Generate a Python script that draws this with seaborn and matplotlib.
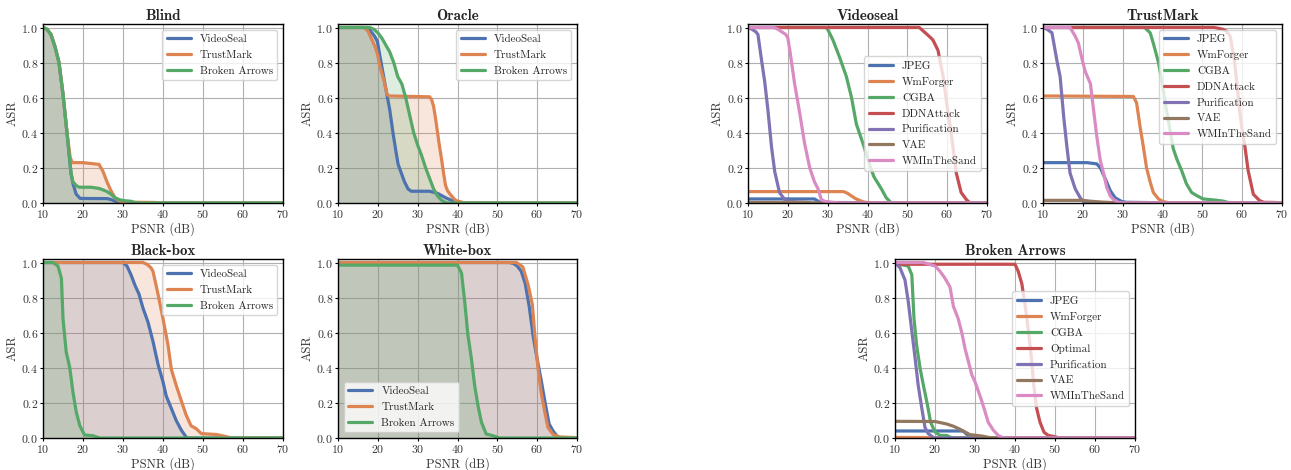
import matplotlib
matplotlib.use("Agg")
import matplotlib.pyplot as plt
import seaborn as sns

# (PSNR dB, ASR) breakpoints
# --- attack strength panels ---
blind_videoseal = [(10, 1.0), (11, 0.99), (12, 0.96), (13, 0.89), (14, 0.8), (15, 0.62), (16, 0.4), (17, 0.17),
                   (17.5, 0.11), (18.3, 0.05), (19.3, 0.026), (26, 0.025), (27, 0.02), (28, 0.01), (29, 0.002), (30, 0.0), (70, 0.0)]
blind_trustmark = [(10, 1.0), (11, 0.99), (12, 0.96), (13, 0.89), (14, 0.8), (15, 0.62), (16, 0.4), (16.8, 0.26),
                   (17.3, 0.23), (20, 0.23), (22, 0.225), (24, 0.22), (25, 0.18), (26, 0.12), (27, 0.07), (28, 0.03),
                   (29, 0.012), (30, 0.005), (38, 0.003), (39, 0.0), (70, 0.0)]
blind_brokenarrows = [(10, 1.0), (11, 0.99), (12, 0.96), (13, 0.89), (14, 0.8), (15, 0.62), (16, 0.4), (17, 0.17),
                      (17.5, 0.12), (18.3, 0.1), (19, 0.09), (22, 0.09), (24, 0.083), (25, 0.075), (26, 0.065), (27, 0.05),
                      (28, 0.03), (29, 0.02), (30, 0.014), (32, 0.01), (33, 0.002), (34, 0.0), (70, 0.0)]

oracle_videoseal = [(10, 1.0), (17.5, 1.0), (18, 0.985), (19.2, 0.95), (19.9, 0.92), (20.5, 0.84), (21.3, 0.74), (22.1, 0.64),
                    (23, 0.53), (23.8, 0.4), (24.5, 0.3), (25.1, 0.22), (25.9, 0.17), (26.7, 0.12), (27.6, 0.08), (28.4, 0.067),
                    (33, 0.067), (35, 0.055), (37, 0.03), (39, 0.01), (41, 0.003), (42, 0.0), (70, 0.0)]
oracle_trustmark = [(10, 1.0), (16.5, 1.0), (17.5, 0.98), (18.5, 0.93), (19.5, 0.88), (20, 0.84), (20.5, 0.78), (21.5, 0.7),
                    (22.3, 0.62), (22.8, 0.61), (33, 0.605), (33.5, 0.59), (34, 0.55), (34.5, 0.48), (35, 0.4), (35.5, 0.32),
                    (36, 0.25), (36.5, 0.17), (37, 0.1), (37.5, 0.07), (38.5, 0.04), (39.5, 0.015), (41, 0.005), (42, 0.0), (70, 0.0)]
oracle_brokenarrows = [(10, 1.0), (18, 1.0), (19, 0.99), (20, 0.97), (21, 0.94), (22, 0.9), (23, 0.86), (24, 0.8), (25, 0.72),
                       (26, 0.68), (27, 0.6), (28, 0.5), (29, 0.4), (30, 0.33), (31, 0.27), (32, 0.2), (33, 0.14), (34, 0.08),
                       (35, 0.04), (36, 0.015), (37, 0.003), (37.5, 0.0), (70, 0.0)]

blackbox_videoseal = [(10, 1.0), (30, 1.0), (31, 0.98), (32, 0.93), (33, 0.87), (34, 0.82), (35, 0.74), (36.25, 0.66),
                      (37.5, 0.55), (38.75, 0.42), (40, 0.32), (40.8, 0.24), (41.7, 0.19), (43.3, 0.1), (44.6, 0.044),
                      (45.8, 0.005), (46.2, 0.0), (70, 0.0)]
blackbox_trustmark = [(10, 1.0), (35, 1.0), (36, 0.99), (37, 0.97), (37.5, 0.95), (38.75, 0.82), (40, 0.68), (41.25, 0.53),
                      (42.1, 0.39), (43.3, 0.3), (44.6, 0.21), (45.8, 0.13), (47, 0.07), (48.3, 0.053), (49.6, 0.025),
                      (53.3, 0.02), (55.8, 0.008), (57.1, 0.0), (70, 0.0)]
blackbox_brokenarrows = [(10, 1.0), (12.5, 1.0), (13.75, 0.98), (14.6, 0.91), (15, 0.68), (15.8, 0.49), (16.7, 0.4),
                         (17.5, 0.26), (18.3, 0.15), (19.2, 0.07), (20.4, 0.017), (22.5, 0.013), (24.2, 0.0), (70, 0.0)]

whitebox_videoseal = [(10, 1.0), (53, 1.0), (54, 0.995), (55, 0.98), (56, 0.95), (57, 0.88), (58, 0.75), (59, 0.58),
                      (60, 0.45), (61, 0.33), (62, 0.2), (63, 0.08), (64, 0.04), (65, 0.01), (66, 0.0), (70, 0.0)]
whitebox_trustmark = [(10, 1.0), (54.8, 1.0), (56.4, 0.975), (57.7, 0.875), (58.8, 0.76), (59.4, 0.59), (60.2, 0.4),
                      (61, 0.26), (61.9, 0.15), (62.7, 0.06), (64, 0.02), (65.6, 0.006), (69, 0.003), (70, 0.0)]
whitebox_brokenarrows = [(10, 0.985), (40, 0.985), (41, 0.94), (41.8, 0.78), (42.6, 0.59), (43.5, 0.45), (44.3, 0.3),
                         (45.1, 0.19), (46, 0.09), (47.2, 0.023), (48.9, 0.013), (50.6, 0.0), (70, 0.0)]

# --- per-watermark panels ---
vs_jpeg = [(10, 0.023), (26.7, 0.023), (27.5, 0.012), (28, 0.005), (30, 0.003), (40, 0.002), (41, 0.0), (70, 0.0)]
vs_wmforger = [(10, 0.065), (34, 0.065), (35, 0.055), (36, 0.04), (37, 0.025), (38, 0.015), (39, 0.006), (40, 0.003),
               (42, 0.001), (43, 0.0), (70, 0.0)]
vs_cgba = [(10, 1.0), (29.5, 1.0), (30, 0.99), (31.3, 0.93), (33, 0.83), (34.7, 0.72), (36, 0.6), (37.2, 0.45), (39, 0.33),
           (40.5, 0.22), (41.6, 0.15), (43.5, 0.08), (44.7, 0.03), (46, 0.0), (70, 0.0)]
vs_ddn = [(10, 1.0), (53, 1.0), (54, 0.98), (55, 0.96), (56.4, 0.93), (57.7, 0.87), (59, 0.72), (60, 0.55), (61, 0.4),
          (62.3, 0.17), (63.5, 0.06), (64.8, 0.02), (65.6, 0.003), (66, 0.0), (70, 0.0)]
vs_purification = [(10, 1.0), (11, 0.99), (12, 0.975), (12.5, 0.96), (13.3, 0.83), (14.2, 0.69), (15, 0.53), (15.9, 0.32),
                   (16.7, 0.18), (17.9, 0.06), (19.2, 0.02), (20, 0.012), (22, 0.006), (25, 0.002), (26, 0.0), (70, 0.0)]
vs_vae = [(10, 0.003), (25, 0.003), (26, 0.0), (70, 0.0)]
vs_wmsand = [(10, 1.0), (16.5, 1.0), (17.5, 0.99), (18.5, 0.975), (19.5, 0.96), (20, 0.94), (20.5, 0.87), (21.7, 0.68),
             (23, 0.51), (24.2, 0.34), (25.5, 0.2), (26.7, 0.12), (27.6, 0.08), (28.4, 0.02), (29.2, 0.01), (31, 0.004),
             (33, 0.0), (70, 0.0)]

tm_jpeg = [(10, 0.23), (21, 0.23), (23.5, 0.223), (24.4, 0.2), (25.6, 0.14), (26.9, 0.07), (28.1, 0.03), (29.8, 0.008),
           (31, 0.004), (38, 0.002), (40, 0.0), (70, 0.0)]
tm_wmforger = [(10, 0.61), (32.7, 0.607), (33.5, 0.57), (34.4, 0.43), (35.2, 0.32), (36, 0.2), (36.9, 0.12), (37.7, 0.06),
               (39, 0.023), (40.2, 0.008), (41.9, 0.0), (70, 0.0)]
tm_cgba = [(10, 1.0), (35.5, 1.0), (36.9, 0.97), (37.7, 0.91), (39, 0.8), (40, 0.67), (41, 0.53), (42, 0.4), (42.7, 0.31),
           (43.6, 0.25), (44.8, 0.185), (46, 0.11), (47.3, 0.06), (48.6, 0.042), (50.2, 0.023), (53.1, 0.017),
           (55.2, 0.011), (57, 0.0), (70, 0.0)]
tm_ddn = [(10, 1.0), (53, 1.0), (55.2, 0.99), (56, 0.98), (57, 0.95), (58, 0.82), (58.6, 0.7), (59.4, 0.52), (60.1, 0.4),
          (60.7, 0.32), (61.5, 0.185), (62.8, 0.05), (64.4, 0.013), (65.5, 0.004), (68.6, 0.003), (69, 0.0), (70, 0.0)]
tm_purification = [(10, 1.0), (11, 0.99), (12.25, 0.97), (13.5, 0.81), (14.3, 0.72), (15.2, 0.49), (16, 0.32), (16.8, 0.17),
                   (18.1, 0.08), (19.35, 0.03), (20, 0.01), (21, 0.0), (70, 0.0)]
tm_vae = [(10, 0.015), (20, 0.015), (22, 0.01), (25, 0.005), (28, 0.002), (30, 0.0), (70, 0.0)]
tm_wmsand = [(10, 1.0), (16.8, 1.0), (18.1, 0.95), (18.9, 0.91), (19.8, 0.82), (20.6, 0.75), (21.9, 0.68), (22.7, 0.53),
             (23.5, 0.38), (24.4, 0.24), (25.2, 0.17), (26, 0.09), (26.9, 0.04), (27.7, 0.02), (29, 0.003), (30, 0.0), (70, 0.0)]

ba_jpeg = [(10, 0.04), (27, 0.04), (27.5, 0.03), (28, 0.02), (29, 0.005), (30, 0.0), (70, 0.0)]
ba_wmforger = [(10, 0.003), (30, 0.002), (31, 0.0), (70, 0.0)]
ba_cgba = [(10, 1.0), (11, 0.99), (13.3, 0.98), (14.2, 0.93), (14.75, 0.68), (15.4, 0.53), (16.25, 0.4), (17.1, 0.3),
           (18.1, 0.19), (18.9, 0.09), (20, 0.034), (21.25, 0.015), (23, 0.014), (23.75, 0.005), (25, 0.0), (70, 0.0)]
ba_optimal = [(10, 0.99), (40, 0.99), (40.8, 0.95), (41.7, 0.88), (42.5, 0.76), (43.3, 0.62), (44, 0.48), (44.7, 0.3),
              (45.4, 0.17), (46.25, 0.09), (47.25, 0.033), (48.3, 0.015), (50.4, 0.005), (51, 0.0), (70, 0.0)]
ba_purification = [(10, 1.0), (11.25, 0.97), (12.5, 0.9), (13.3, 0.78), (14.2, 0.61), (15, 0.46), (15.8, 0.3), (16.7, 0.17),
                   (17.5, 0.06), (18.3, 0.025), (19.6, 0.003), (20, 0.0), (70, 0.0)]
ba_vae = [(10, 0.095), (20, 0.094), (22.9, 0.08), (24.6, 0.067), (26.25, 0.05), (27.5, 0.034), (28.75, 0.019),
          (30.4, 0.015), (32, 0.01), (33.75, 0.002), (34.5, 0.0), (70, 0.0)]
ba_wmsand = [(10, 1.0), (17.1, 1.0), (20, 0.98), (21.25, 0.95), (22.5, 0.91), (23.75, 0.86), (24.6, 0.75), (25.8, 0.68),
             (26.7, 0.6), (27.5, 0.51), (28.3, 0.44), (29.2, 0.36), (30, 0.32), (31.25, 0.24), (32.25, 0.17), (33.3, 0.09),
             (34.6, 0.044), (35.8, 0.015), (37.1, 0.0), (70, 0.0)]

wm_labels = ["VideoSeal", "TrustMark", "Broken Arrows"]
attack_labels = ["JPEG", "WmForger", "CGBA", "DDNAttack", "Purification", "VAE", "WMInTheSand"]
ba_attack_labels = ["JPEG", "WmForger", "CGBA", "Optimal", "Purification", "VAE", "WMInTheSand"]

sns.set_theme(style="whitegrid", palette="deep")
plt.rcParams.update({
    "font.family": "cmr10",
    "mathtext.fontset": "cm",
    "axes.formatter.use_mathtext": True,
    "axes.edgecolor": "black",
    "axes.linewidth": 1.0,
    "grid.color": "#b0b0b0",
    "grid.linewidth": 0.8,
    "xtick.labelsize": 8.5,
    "ytick.labelsize": 8.5,
    "xtick.color": "#333333",
    "ytick.color": "#333333",
    "axes.labelsize": 9,
    "axes.labelcolor": "#333333",
    "legend.fontsize": 8,
    "xtick.bottom": True,
    "ytick.left": True,
})
pal = sns.color_palette("deep")

W, H = 1291, 470
fig = plt.figure(figsize=(W / 100, H / 100), dpi=100)


def make_ax(left, right, top, bottom):
    return fig.add_axes([left / W, 1 - bottom / H, (right - left) / W, (bottom - top) / H])


def panel(ax, title, curves, labels, fill, legend_loc):
    for i, (pts, lab) in enumerate(zip(curves, labels)):
        xs = [p[0] for p in pts]
        ys = [p[1] for p in pts]
        if fill:
            ax.fill_between(xs, ys, 0, color=pal[i], alpha=0.2, lw=0, zorder=1)
        sns.lineplot(x=xs, y=ys, ax=ax, color=pal[i], lw=2.3, label=lab,
                     estimator=None, sort=False, zorder=2)
    ax.set_xlim(10, 70)
    ax.set_ylim(0, 1.02)
    ax.set_xticks([10, 20, 30, 40, 50, 60, 70])
    ax.set_yticks([0.0, 0.2, 0.4, 0.6, 0.8, 1.0])
    ax.set_xlabel("PSNR (dB)", labelpad=1.5)
    ax.set_ylabel("ASR", labelpad=2)
    ax.set_title(title, fontfamily="cmb10", fontsize=10.8, pad=3)
    ax.tick_params(length=2.5, width=0.8, pad=1, color="black")
    ax.legend(loc=legend_loc, frameon=True, fancybox=True, framealpha=0.8,
              borderpad=0.4, labelspacing=0.55, handlelength=2.2)


panel(make_ax(43, 283, 24, 203), "Blind",
      [blind_videoseal, blind_trustmark, blind_brokenarrows], wm_labels, True, "upper right")
panel(make_ax(338, 577, 24, 203), "Oracle",
      [oracle_videoseal, oracle_trustmark, oracle_brokenarrows], wm_labels, True, "upper right")
panel(make_ax(43, 283, 259, 438), "Black-box",
      [blackbox_videoseal, blackbox_trustmark, blackbox_brokenarrows], wm_labels, True, "upper right")
panel(make_ax(338, 577, 259, 438), "White-box",
      [whitebox_videoseal, whitebox_trustmark, whitebox_brokenarrows], wm_labels, True, "lower left")

panel(make_ax(748, 987, 24, 203), "Videoseal",
      [vs_jpeg, vs_wmforger, vs_cgba, vs_ddn, vs_purification, vs_vae, vs_wmsand], attack_labels, False, "center right")
panel(make_ax(1043, 1282, 24, 203), "TrustMark",
      [tm_jpeg, tm_wmforger, tm_cgba, tm_ddn, tm_purification, tm_vae, tm_wmsand], attack_labels, False, "upper right")
panel(make_ax(895, 1135, 259, 438), "Broken Arrows",
      [ba_jpeg, ba_wmforger, ba_cgba, ba_optimal, ba_purification, ba_vae, ba_wmsand], ba_attack_labels, False, "center right")

fig.savefig("out.png", dpi=100)
